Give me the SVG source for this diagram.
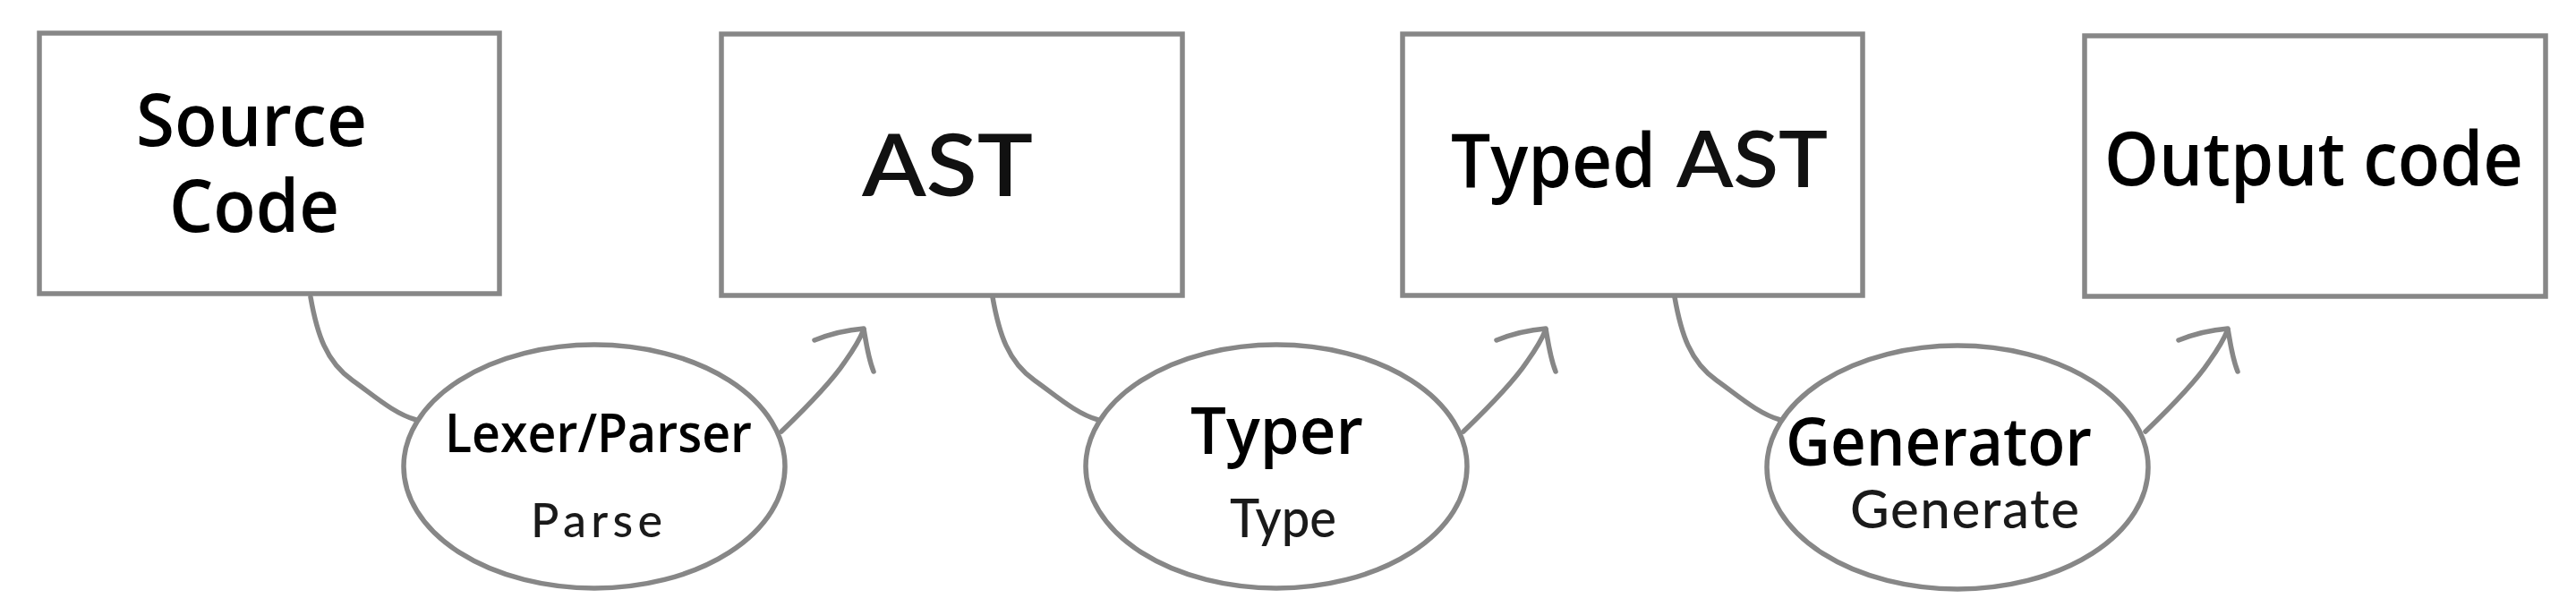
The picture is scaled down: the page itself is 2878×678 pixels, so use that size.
<svg xmlns="http://www.w3.org/2000/svg" width="2878" height="678" viewBox="0 0 2878 678">
<style>
.box{fill:#fff;stroke:#878787;stroke-width:5.5}
.ell{fill:#fff;stroke:#878787;stroke-width:5.5}
.con{fill:none;stroke:#878787;stroke-width:5.5;stroke-linecap:round;stroke-linejoin:round}
.sans{font-family:"Open Sans","Noto Sans","Liberation Sans",sans-serif;font-weight:600;fill:#000}
.hum{font-family:Lato,"Open Sans",sans-serif;fill:#111}
.sub{font-family:Lato,"Open Sans",sans-serif;font-weight:500;fill:#1a1a1a}
</style>
<rect width="2878" height="678" fill="#fff"/>
<g id="connectors">
  <g id="c1">
    <path class="con" d="M347,332 C354,372 364,404 394,425 C418,442 440,462 465,469"/>
    <path class="con" d="M873,482 C900,456 930,425 944,404 C954,390 961,378 965,368"/>
    <path class="con" d="M910,380 C925,374 940,369 965,367 C968,385 970,400 976,415"/>
  </g>
  <g id="c2" transform="translate(762,0)">
    <path class="con" d="M347,332 C354,372 364,404 394,425 C418,442 440,462 465,469"/>
    <path class="con" d="M873,482 C900,456 930,425 944,404 C954,390 961,378 965,368"/>
    <path class="con" d="M910,380 C925,374 940,369 965,367 C968,385 970,400 976,415"/>
  </g>
  <g id="c3" transform="translate(1524,0)">
    <path class="con" d="M347,332 C354,372 364,404 394,425 C418,442 440,462 465,469"/>
    <path class="con" d="M873,482 C900,456 930,425 944,404 C954,390 961,378 965,368"/>
    <path class="con" d="M910,380 C925,374 940,369 965,367 C968,385 970,400 976,415"/>
  </g>
</g>
<g id="source-code">
  <rect class="box" x="44" y="37" width="514" height="291"/>
  <text class="sans" x="152" y="163" font-size="82" textLength="258" lengthAdjust="spacingAndGlyphs">Source</text>
  <text class="sans" x="189" y="259" font-size="82" textLength="190" lengthAdjust="spacingAndGlyphs">Code</text>
</g>
<g id="ast">
  <rect class="box" x="806" y="38" width="515" height="292"/>
  <text class="hum" x="963" y="219" font-size="96" font-weight="600" textLength="191" lengthAdjust="spacingAndGlyphs">AST</text>
</g>
<g id="typed-ast">
  <rect class="box" x="1567" y="38" width="514" height="292"/>
  <text class="sans" x="1621" y="209" font-size="84" textLength="229" lengthAdjust="spacingAndGlyphs">Typed</text>
  <text class="hum" x="1873" y="209" font-size="86" font-weight="600" textLength="169" lengthAdjust="spacingAndGlyphs">AST</text>
</g>
<g id="output-code">
  <rect class="box" x="2329" y="40" width="515" height="291"/>
  <text class="sans" x="2351" y="207" font-size="83" textLength="468" lengthAdjust="spacingAndGlyphs">Output code</text>
</g>
<g id="lexer-parser">
  <ellipse class="ell" cx="664" cy="521" rx="213" ry="136"/>
  <text class="sans" x="497" y="505" font-size="60" textLength="343" lengthAdjust="spacingAndGlyphs">Lexer/Parser</text>
  <text class="sub" x="593" y="600" font-size="52" textLength="147" lengthAdjust="spacing">Parse</text>
</g>
<g id="typer">
  <ellipse class="ell" cx="1426" cy="521" rx="213" ry="136"/>
  <text class="sans" x="1330" y="507" font-size="72" textLength="193" lengthAdjust="spacingAndGlyphs">Typer</text>
  <text class="sub" x="1374" y="600" font-size="59" textLength="119" lengthAdjust="spacingAndGlyphs">Type</text>
</g>
<g id="generator">
  <ellipse class="ell" cx="2187" cy="522" rx="213" ry="136"/>
  <text class="sans" x="1995" y="520" font-size="74" textLength="342" lengthAdjust="spacingAndGlyphs">Generator</text>
  <text class="sub" x="2067" y="590" font-size="60" textLength="256" lengthAdjust="spacing">Generate</text>
</g>
</svg>
